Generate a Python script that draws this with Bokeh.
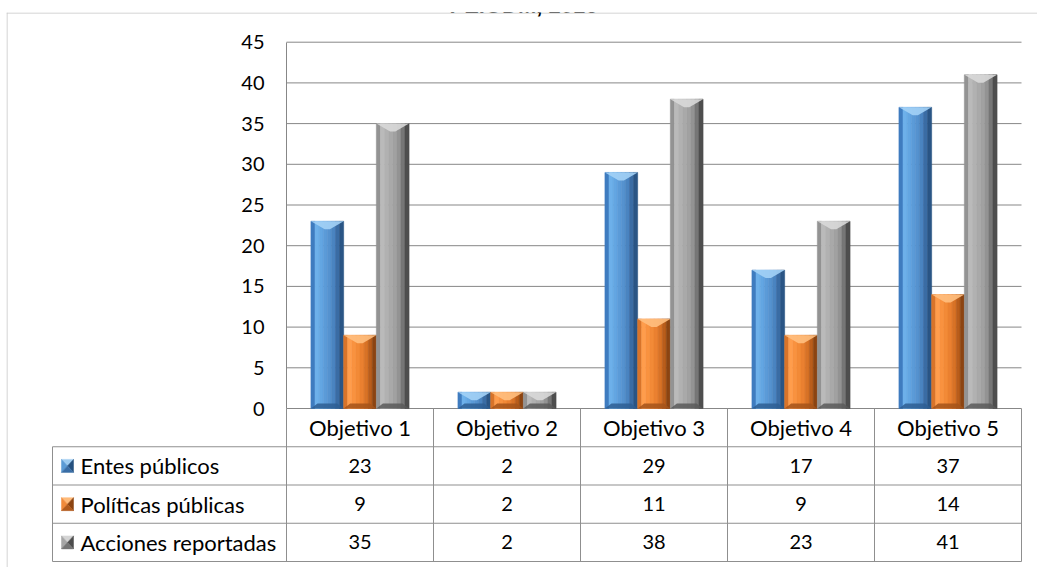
from bokeh.plotting import figure
from bokeh.models import Range1d, LinearAxis, FixedTicker, Span, Label
from bokeh.core.properties import value
from bokeh.embed import file_html
from bokeh.resources import INLINE

# ---------------- data ----------------
categories = ["Objetivo 1", "Objetivo 2", "Objetivo 3", "Objetivo 4", "Objetivo 5"]
series_names = ["Entes públicos", "Políticas públicas", "Acciones reportadas"]
entes_publicos = [23, 2, 29, 17, 37]
politicas_publicas = [9, 2, 11, 9, 14]
acciones_reportadas = [35, 2, 38, 23, 41]
y_ticks = [0, 5, 10, 15, 20, 25, 30, 35, 40, 45]
title_text = "PEIODM, 2016"

series_values = [entes_publicos, politicas_publicas, acciones_reportadas]

# ---------------- styles ----------------
strip_colors = [
    ["#3f7cbf", "#6db0ea", "#63a6e2", "#5b9bd8", "#5592cf", "#4a84c0", "#3a6ca4", "#2a5585"],
    ["#d8742a", "#ff9d4c", "#f9923f", "#f28a37", "#ea8030", "#d87226", "#b95d1b", "#8c4411"],
    ["#939393", "#bababa", "#b1b1b1", "#a9a9a9", "#a1a1a1", "#939393", "#767676", "#4e4e4e"],
]
top_colors = ["#a3d2f6", "#ffbf80", "#d9d9d9"]
bottom_colors = ["#2e5e93", "#a5531a", "#5a5a5a"]
key_colors = [
    ("#9ccbf0", "#5b9bd5", "#25507f", "#3a6ea6"),
    ("#ffbb7a", "#f08a3a", "#8c4411", "#b35b1c"),
    ("#d4d4d4", "#a5a5a5", "#4c4c4c", "#747474"),
]
GRID_COLOR = "#878787"
TABLE_COLOR = "#8f8f8f"
BORDER_COLOR = "#c6c6c6"
FONT = "Lato"
NUM_SIZE = "20px"
LABEL_SIZE = "22px"

# ---------------- layout (pixels) ----------------
W, H = 1037, 567
FRAME_L, FRAME_T = 6, 12
CAT_X0 = 286.0
COL_W = 147.0
ZERO_Y = 408.0
TOP_Y = 41.7
ROW_H = 38.25
LABEL_COL_X = 52.0
Y_MAX = 45
BAR_PX = 32.7
N_STRIPS = 8

ppu_y = (ZERO_Y - TOP_Y) / Y_MAX
x_start = (FRAME_L - CAT_X0) / COL_W
x_end = (W - CAT_X0) / COL_W
y_end = (ZERO_Y - FRAME_T) / ppu_y
y_start = -(H - ZERO_Y) / ppu_y
t_end = (ZERO_Y - FRAME_T) / ROW_H
t_start = -(H - ZERO_Y) / ROW_H

def px_x(px):
    return px / COL_W

def px_y(px):
    return px / ppu_y

n_cat = len(categories)
bar_w = px_x(BAR_PX)

p = figure(width=W, height=H,
           x_range=Range1d(x_start, x_end), y_range=Range1d(y_start, y_end),
           x_axis_location=None, y_axis_location=None,
           min_border_left=FRAME_L, min_border_top=FRAME_T,
           min_border_right=0, min_border_bottom=0,
           toolbar_location=None, output_backend="svg",
           outline_line_color=None, background_fill_color="white",
           border_fill_color="white")
p.extra_y_ranges = {"tbl": Range1d(t_start, t_end)}
for g in p.grid:
    g.visible = False

# outer chart border (top and left visible)
p.add_layout(Span(location=x_start + px_x(0.5), dimension="height",
                  line_color=BORDER_COLOR, line_width=1))
p.add_layout(Span(location=y_end - px_y(0.5), dimension="width",
                  line_color=BORDER_COLOR, line_width=1))

# gridlines across the category area
p.segment(x0=[0] * len(y_ticks), x1=[n_cat] * len(y_ticks), y0=y_ticks, y1=y_ticks,
          line_color=GRID_COLOR, line_width=1)

# y axis
yaxis = LinearAxis(fixed_location=0, bounds=(0, Y_MAX), ticker=FixedTicker(ticks=y_ticks),
                   axis_line_color=GRID_COLOR, major_tick_line_color=None,
                   minor_tick_line_color=None, major_tick_in=0, major_tick_out=0,
                   minor_tick_in=0, minor_tick_out=0,
                   major_label_standoff=22, major_label_text_font=FONT,
                   major_label_text_font_size=NUM_SIZE, major_label_text_color="black")
p.add_layout(yaxis, "left")

# bars with bevel effect
offsets = [-bar_w, 0.0, bar_w]
d_top = px_y(8)
d_bot = px_y(5)
for s, vals in enumerate(series_values):
    centers = [i + 0.5 + offsets[s] for i in range(n_cat)]
    for j in range(N_STRIPS):
        xs = [c - bar_w / 2 + (j + 0.5) * bar_w / N_STRIPS for c in centers]
        p.vbar(x=xs, top=vals, bottom=0, width=bar_w / N_STRIPS,
               fill_color=strip_colors[s][j], line_color=strip_colors[s][j], line_width=0.6)
    top_xs, top_ys, bot_xs, bot_ys = [], [], [], []
    for c, v in zip(centers, vals):
        x0, x1 = c - bar_w / 2, c + bar_w / 2
        top_xs.append([x0, x1, c + 0.08 * bar_w, c - 0.08 * bar_w])
        top_ys.append([v, v, v - d_top, v - d_top])
        bot_xs.append([x0, x1, c + 0.3 * bar_w, c - 0.3 * bar_w])
        bot_ys.append([0, 0, d_bot, d_bot])
    p.patches(xs=top_xs, ys=top_ys, fill_color=top_colors[s], fill_alpha=0.9, line_color=None)
    p.patches(xs=bot_xs, ys=bot_ys, fill_color=bottom_colors[s], fill_alpha=0.85, line_color=None)

# ---------------- data table ----------------
lab_x = px_x(LABEL_COL_X - CAT_X0)
n_rows = len(series_names)
row_lines = [-(k + 1) for k in range(n_rows + 1)]
p.segment(x0=[lab_x] * len(row_lines), x1=[n_cat] * len(row_lines),
          y0=row_lines, y1=row_lines,
          line_color=TABLE_COLOR, line_width=1, y_range_name="tbl")
p.segment(x0=[lab_x], x1=[lab_x], y0=[-1], y1=[-(n_rows + 1)],
          line_color=TABLE_COLOR, line_width=1, y_range_name="tbl")
p.segment(x0=list(range(n_cat + 1)), x1=list(range(n_cat + 1)),
          y0=[0] * (n_cat + 1), y1=[-(n_rows + 1)] * (n_cat + 1),
          line_color=TABLE_COLOR, line_width=1, y_range_name="tbl")

# header texts
p.text(x=[i + 0.5 for i in range(n_cat)], y=[-0.5] * n_cat, text=categories,
       y_range_name="tbl", text_align="center", text_baseline="middle",
       text_font=value(FONT), text_font_size=value(LABEL_SIZE), text_color="black")

# value texts
for k, vals in enumerate(series_values):
    p.text(x=[i + 0.5 for i in range(n_cat)], y=[-(k + 1.5)] * n_cat,
           text=[str(v) for v in vals], y_range_name="tbl",
           text_align="center", text_baseline="middle",
           text_font=value(FONT), text_font_size=value(NUM_SIZE), text_color="black")

# row labels
p.text(x=[px_x(80 - CAT_X0)] * n_rows, y=[-(k + 1.5) for k in range(n_rows)],
       text=series_names, y_range_name="tbl", text_align="left", text_baseline="middle",
       text_font=value(FONT), text_font_size=value(LABEL_SIZE), text_color="black")

# legend keys (bevelled squares)
kcx = px_x(67 - CAT_X0)
khw = px_x(6)
khh = 6.5 / ROW_H
for k in range(n_rows):
    cy = -(k + 1.5)
    tl, tr = (kcx - khw, cy + khh), (kcx + khw, cy + khh)
    bl, br = (kcx - khw, cy - khh), (kcx + khw, cy - khh)
    c = (kcx, cy)
    tris = [(tl, tr, c), (bl, tl, c), (tr, br, c), (br, bl, c)]
    p.patches(xs=[[a[0], b[0], d[0]] for a, b, d in tris],
              ys=[[a[1], b[1], d[1]] for a, b, d in tris],
              fill_color=list(key_colors[k]), line_color=list(key_colors[k]),
              line_width=0.5, y_range_name="tbl")

# title (cut at the top like the reference)
p.add_layout(Label(x=px_x(523 - CAT_X0), y=(ZERO_Y - 5) / ppu_y, text=title_text,
                   text_align="center", text_baseline="alphabetic",
                   text_font="Liberation Sans", text_font_style="bold",
                   text_font_size="22px", text_color="black"))

open("out.html", "w").write(file_html(p, INLINE))
